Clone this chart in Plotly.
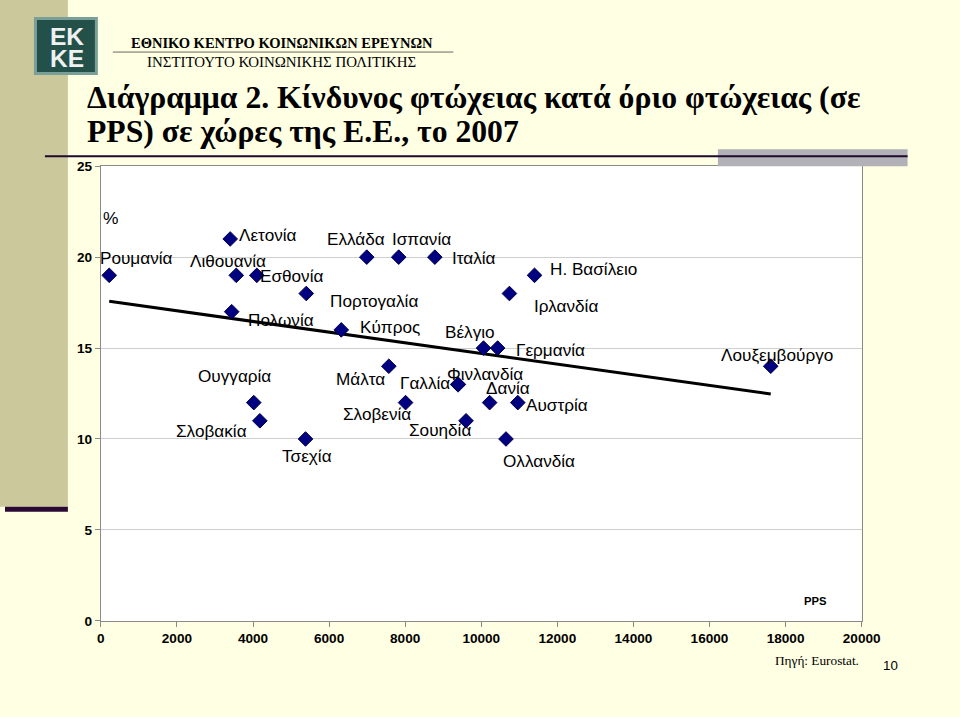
import numpy as np
import plotly.graph_objects as go

# ---- data ----
countries = ["Ρουμανία", "Λετονία", "Λιθουανία", "Εσθονία", "Πολωνία", "Πορτογαλία",
             "Ουγγαρία", "Σλοβακία", "Τσεχία", "Κύπρος", "Μάλτα", "Ελλάδα", "Ισπανία",
             "Ιταλία", "Η. Βασίλειο", "Ιρλανδία", "Βέλγιο", "Γερμανία", "Γαλλία",
             "Φινλανδία", "Δανία", "Αυστρία", "Σουηδία", "Ολλανδία", "Σλοβενία",
             "Λουξεμβούργο"]
pps = [220, 3400, 3560, 4100, 3440, 5400,
       4020, 4180, 5380, 6320, 7570, 6990, 7830,
       8780, 11400, 10740, 10060, 10430, 9380,
       9400, 10220, 10960, 9600, 10650, 8010,
       17610]
risk = [19, 21, 19, 19, 17, 18,
        12, 11, 10, 16, 14, 20, 20,
        20, 19, 18, 15, 15, 13,
        13, 12, 12, 11, 10, 12,
        14]
x_ticks = [0, 2000, 4000, 6000, 8000, 10000, 12000, 14000, 16000, 18000, 20000]
y_ticks = [0, 5, 10, 15, 20, 25]

# label offsets in screen pixels (dx right, dy down) -- styling only
offsets = {
    "Ρουμανία": (27, -17), "Λετονία": (37, -4), "Λιθουανία": (-8, -14),
    "Εσθονία": (34, 1), "Πολωνία": (48, 8), "Πορτογαλία": (66, 7),
    "Ουγγαρία": (-19, -26), "Σλοβακία": (-47, 10), "Τσεχία": (1, 17),
    "Κύπρος": (48, -3), "Μάλτα": (-28, 12), "Ελλάδα": (-11, -18),
    "Ισπανία": (22, -18), "Ιταλία": (38, 1), "Η. Βασίλειο": (58, -6),
    "Ιρλανδία": (55, 12), "Βέλγιο": (-13, -16), "Γερμανία": (52, 2),
    "Γαλλία": (-32, -1), "Φινλανδία": (26, -10), "Δανία": (18, -14),
    "Αυστρία": (38, 2), "Σουηδία": (-25, 9), "Ολλανδία": (32, 22),
    "Σλοβενία": (-28, 11), "Λουξεμβούργο": (6, -11),
}

# the photographed page appears slightly scaled; compensate (screen px -> figure px)
S, OX, OY = 0.978, 4.0, 7.0
W, H = round((960 - OX) / S), round((717 - OY) / S)
def px(x):
    return ((x - OX) / S) / W
def py(y):
    return 1 - ((y - OY) / S) / H
def sz(v):
    return v / S

CREAM = "#FFFFE3"
KHAKI = "#CBC89B"
SANS = "Liberation Sans, Arial"
SERIF = "Liberation Serif, Times New Roman"

# linear trend (least squares, as in the original chart)
slope, intercept = np.polyfit(pps, risk, 1)
tx = np.array([min(pps), max(pps)])
ty = slope * tx + intercept

fig = go.Figure()
fig.add_trace(go.Scatter(x=tx, y=ty, mode="lines",
                         line=dict(color="black", width=sz(3)), hoverinfo="skip"))
fig.add_trace(go.Scatter(x=pps, y=risk, mode="markers", text=countries,
                         marker=dict(symbol="diamond", size=sz(11), color="#000080",
                                     line=dict(color="#00004a", width=1))))

annotations = []
for c, xv, yv in zip(countries, pps, risk):
    dx, dy = offsets[c]
    annotations.append(dict(x=xv, y=yv, xref="x", yref="y", text=c, showarrow=False,
                            xshift=sz(dx), yshift=-sz(dy), xanchor="center", yanchor="middle",
                            font=dict(family=SANS, size=sz(16.8), color="black")))

def ptext(x, y, text, size, family=SANS, anchor="center"):
    return dict(x=px(x), y=py(y), xref="paper", yref="paper", text=text, showarrow=False,
                xanchor=anchor, yanchor="middle",
                font=dict(family=family, size=sz(size), color="black"))

annotations += [
    ptext(111, 218, "%", 17),
    ptext(817, 600, "<b>PPS</b>", 11),
    ptext(818, 660, "Πηγή: Eurostat.", 13, SERIF),
    ptext(892, 665, "10", 13),
    ptext(282, 43, "<b>ΕΘΝΙΚΟ ΚΕΝΤΡΟ ΚΟΙΝΩΝΙΚΩΝ ΕΡΕΥΝΩΝ</b>", 14.2, SERIF),
    ptext(282, 62, "ΙΝΣΤΙΤΟΥΤΟ ΚΟΙΝΩΝΙΚΗΣ ΠΟΛΙΤΙΚΗΣ", 14.6, SERIF),
    ptext(85, 97, "<b>Διάγραμμα 2. Κίνδυνος φτώχειας κατά όριο φτώχειας (σε</b>", 31, SERIF, "left"),
    ptext(85, 131, "<b>PPS) σε χώρες της Ε.Ε., το 2007</b>", 31, SERIF, "left"),
]
for t, yy in (("<b>EK</b>", 36), ("<b>KE</b>", 58)):
    a = ptext(67, yy, t, 24)
    a["font"]["color"] = "#eef2f0"
    annotations.append(a)

def prect(x0, x1, y0, y1, color, layer="above"):
    return dict(type="rect", xref="paper", yref="paper", x0=px(x0), x1=px(x1),
                y0=py(y1), y1=py(y0), fillcolor=color, line=dict(width=0), layer=layer)

def pline(x0, x1, y, color, width):
    return dict(type="line", xref="paper", yref="paper", x0=px(x0), x1=px(x1),
                y0=py(y), y1=py(y), line=dict(color=color, width=width))

shapes = [
    prect(-10, 68, -10, 506, KHAKI, "below"),
    prect(5, 68, 506, 511, "#2a0a33", "below"),
    pline(113, 454, 52, "#666666", 1),
    prect(719, 909, 149, 166, "#B3B1B8"),
    pline(45, 909, 156, "#1f0a2e", 2),
    prect(34, 98, 17, 75, "#7a9e98"),
    prect(37, 95, 20, 72, "#24504a"),
]

fig.update_layout(
    width=W, height=H, autosize=False,
    margin=dict(l=0, r=0, t=0, b=0),
    paper_bgcolor=CREAM, plot_bgcolor="white",
    showlegend=False,
    annotations=annotations, shapes=shapes,
    xaxis=dict(domain=[px(101), px(863)], range=[0, 20000], tickvals=x_ticks,
               ticktext=[f"<b>{v}</b>" for v in x_ticks],
               showgrid=False, zeroline=False, showline=True, linecolor="#8a8a8a",
               linewidth=1, mirror=True, ticks="outside", ticklen=5, tickcolor="#8a8a8a",
               tickfont=dict(family=SANS, size=sz(13.3), color="black")),
    yaxis=dict(domain=[py(620), py(166)], range=[0, 25], tickvals=y_ticks,
               ticktext=[f"<b>{v}</b>" for v in y_ticks],
               showgrid=True, gridcolor="#cfcfcf", gridwidth=1, zeroline=False,
               showline=True, linecolor="#8a8a8a", linewidth=1, mirror=True,
               ticks="outside", ticklen=5, tickcolor="#8a8a8a",
               tickfont=dict(family=SANS, size=sz(13.3), color="black")),
)

fig.write_html("out.html", post_script="document.body.style.background='%s';" % CREAM)
